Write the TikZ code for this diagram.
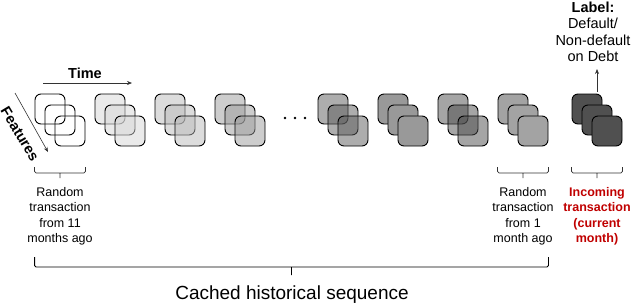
\documentclass[tikz,border=0pt]{standalone}
\usepackage{fontspec}
\setmainfont{Liberation Sans}
\usepackage{tikz}
\usetikzlibrary{positioning, arrows.meta, calc}
\definecolor{accentred}{RGB}{192, 0, 0}
\definecolor{darkstack}{RGB}{80, 80, 80}
\tikzset{
  stacksq/.style={
    rectangle, draw=black, line width=0.9pt,
    rounded corners=6pt, minimum size=30pt, inner sep=0pt
  },
  timearrow/.style={
    -{Stealth[length=5pt, width=4pt]}, line width=0.6pt, color=black!80
  },
  bracket/.style 2 args={
    rounded corners=1.5pt, line width=0.7pt, color=black!80,
    to path={-- ++(0,-#1) -- ($(\tikztotarget)+(0,-#1)$) -- (\tikztotarget)
      ($(\tikztostart)!.5!(\tikztotarget)+(0,-#1)$) -- ++(0,-#2)}
  },
  axislabel/.style={
    font=\bfseries\fontsize{14.5}{17}\selectfont
  },
  txnlabel/.style={
    font=\fontsize{12.5}{15.5}\selectfont, align=center, inner sep=0pt
  },
}

\begin{document}
\begin{tikzpicture}[x=1pt, y=1pt]
  \useasboundingbox (0,0) rectangle (634,-306);

  % Stacks of monthly transactions
  \foreach \i/\x/\shade/\op in {1/35/white/0, 2/95/black!16/0.5,
      3/155/black!27/0.5, 4/215/black!39/0.5, 5/318/black!64/0.5,
      6/378/black!40/1, 7/438/black!70/0.5, 8/498/black!36/1,
      9/572/darkstack/1} {
    \foreach \k in {0,1,2}
      \node[stacksq, fill=\shade, fill opacity=\op]
        (s\i\k) at ({\x+15+10*\k},{-109-11*\k}) {};
  }

  % Gap in the sequence
  \foreach \d in {285,295,305}
    \fill (\d,-118) circle (1.4pt);

  % Axes
  \node[axislabel] (time) at (85,-73) {Time};
  \coordinate (tstart) at (43,-83);
  \coordinate (tend) at (132,-83);
  \draw[timearrow] (tstart) -- (tend);
  \node[axislabel, rotate=-59] (feat) at (20,-134) {Features};
  \coordinate (fstart) at (15,-93);
  \coordinate (fend) at (48,-152);
  \draw[timearrow] (fstart) -- (fend);

  % Label of the incoming transaction
  \node[txnlabel, font=\fontsize{14.5}{16.5}\selectfont, anchor=south]
    (lbl) at (593,-62) {\textbf{Label:}\\Default/\\Non-default\\on Debt};
  \draw[timearrow] ([yshift=2pt]s90.north -| s91)
    -- ([yshift=-7pt]lbl.south -| s91);

  % Brackets and descriptions
  \draw[bracket={6}{5}] (s10.west |- 0,-167) to (s12.east |- 0,-167);
  \draw[bracket={6}{5}] (s80.west |- 0,-167) to (s82.east |- 0,-167);
  \draw[bracket={6}{5}] (s90.west |- 0,-167) to (s92.east |- 0,-167);
  \node[txnlabel, anchor=north] (oldtxn) at (s11 |- 0,-187)
    {Random\\transaction\\from 11\\months ago};
  \node[txnlabel, anchor=north] (lasttxn) at (s81 |- 0,-187)
    {Random\\transaction\\from 1\\month ago};
  \node[txnlabel, anchor=north, text=accentred, font=\bfseries\fontsize{12.5}{15.5}\selectfont]
    (newtxn) at (s91 |- 0,-187) {Incoming\\transaction\\(current\\month)};

  % Whole history
  \draw[bracket={10}{8}, line width=0.9pt, color=black]
    (s10.west |- 0,-257) to (s82.east |- 0,-257);
  \node[font=\fontsize{19}{22}\selectfont, anchor=base] (hist) at (292,-299)
    {Cached historical sequence};
\end{tikzpicture}
\end{document}
